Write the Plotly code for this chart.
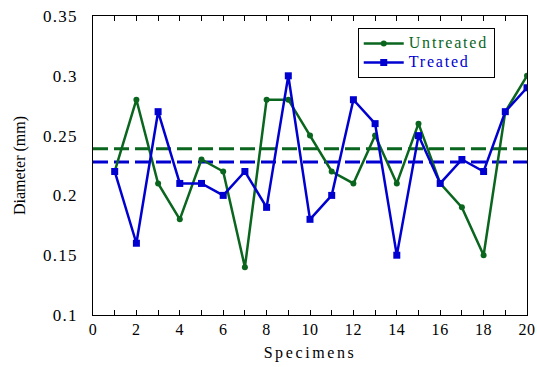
import plotly.graph_objects as go

specimens = list(range(1, 21))
untreated = [0.22, 0.28, 0.21, 0.18, 0.23, 0.22, 0.14, 0.28, 0.28, 0.25,
             0.22, 0.21, 0.25, 0.21, 0.26, 0.21, 0.19, 0.15, 0.27, 0.30]
treated = [0.22, 0.16, 0.27, 0.21, 0.21, 0.20, 0.22, 0.19, 0.30, 0.18,
           0.20, 0.28, 0.26, 0.15, 0.25, 0.21, 0.23, 0.22, 0.27, 0.29]
untreated_mean = 0.239
treated_mean = 0.228
x_range = [0, 20]
y_range = [0.1, 0.35]
x_tick_vals = [0, 2, 4, 6, 8, 10, 12, 14, 16, 18, 20]
x_tick_text = ["0", "2", "4", "6", "8", "10", "12", "14", "16", "18", "20"]
y_tick_vals = [0.1, 0.15, 0.2, 0.25, 0.3, 0.35]
y_tick_text = ["0.1", "0.15", "0.2", "0.25", "0.3", "0.35"]

GREEN = "#0a661e"
BLUE = "#0000d0"
FONT = "Liberation Serif, Times New Roman, serif"


def spaced(t, ls=1.2, size=None, color=None):
    st = f"letter-spacing:{ls}px"
    if size:
        st += f";font-size:{size}px"
    if color:
        st += f";color:{color}"
    return f'<span style="{st}">{t}</span>'


fig = go.Figure()
fig.add_trace(go.Scatter(x=x_range, y=[untreated_mean] * 2, mode="lines",
                         line=dict(color=GREEN, width=3, dash="15px,6px"), showlegend=False, hoverinfo="skip"))
fig.add_trace(go.Scatter(x=x_range, y=[treated_mean] * 2, mode="lines",
                         line=dict(color=BLUE, width=3, dash="15px,6px"), showlegend=False, hoverinfo="skip"))
fig.add_trace(go.Scatter(x=specimens, y=untreated, mode="lines+markers",
                         name=spaced("Untreated", 1.8, 16, GREEN),
                         line=dict(color=GREEN, width=2.5),
                         marker=dict(symbol="circle", size=6, color=GREEN)))
fig.add_trace(go.Scatter(x=specimens, y=treated, mode="lines+markers",
                         name=spaced("Treated", 1.8, 16, BLUE),
                         line=dict(color=BLUE, width=2.5),
                         marker=dict(symbol="square", size=7, color=BLUE)))

tickfont = dict(family=FONT, size=17, color="black")

fig.update_xaxes(range=x_range, tickmode="array", tickvals=x_tick_vals,
                 ticktext=[spaced(t, 0.6) for t in x_tick_text],
                 showline=True, linecolor="black", linewidth=1, mirror="ticks",
                 ticks="inside", ticklen=5, tickcolor="black", showgrid=False, zeroline=False,
                 minor=dict(dtick=1, ticks="inside", ticklen=5, tickcolor="black"),
                 ticklabeloverflow="allow", tickfont=dict(family=FONT, size=16, color="black"),
                 automargin=False,
                 title=dict(text=spaced("Specimens", 2.6), font=dict(family=FONT, size=16, color="black"), standoff=9))

fig.update_layout(
    yaxis=dict(range=y_range, tickmode="array", tickvals=y_tick_vals,
               ticktext=[spaced(t) for t in y_tick_text],
               showline=True, linecolor="black", linewidth=1, mirror=True,
               ticks="outside", ticklen=11, tickcolor="rgba(0,0,0,0)",
               showgrid=False, zeroline=False, tickfont=tickfont, automargin=False,
               title=dict(text="Diameter (mm)", font=dict(family=FONT, size=16, color="black"), standoff=13)),
    yaxis2=dict(overlaying="y", anchor="x", side="left", range=y_range,
                tickmode="array", tickvals=y_tick_vals, showticklabels=False,
                ticks="inside", ticklen=5, tickcolor="black", mirror="ticks",
                showline=False, showgrid=False, zeroline=False),
)

fig.update_layout(
    width=537, height=367,
    margin=dict(l=93, r=10, t=16, b=52),
    plot_bgcolor="white", paper_bgcolor="white",
    font=dict(family=FONT, size=15, color="black"),
    legend=dict(x=0.61, y=0.96, xanchor="left", yanchor="top",
                bordercolor="black", borderwidth=1, bgcolor="white",
                font=dict(family=FONT, size=11), tracegroupgap=0,
                itemwidth=40),
)

fig.write_html("out.html")
